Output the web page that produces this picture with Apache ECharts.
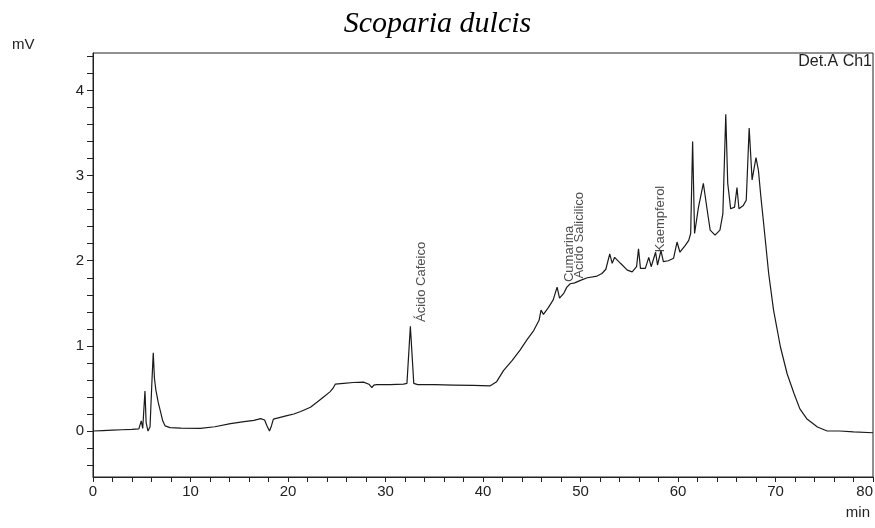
<!DOCTYPE html>
<html>
<head>
<meta charset="utf-8">
<script src="https://cdn.jsdelivr.net/npm/echarts@6/dist/echarts.min.js"></script>
<style>
  html, body { margin: 0; padding: 0; background: #fff; }
  #chart { width: 875px; height: 528px; }
</style>
</head>
<body>
<div id="chart"></div>
<script>
// Retention time (min) and detector signal (mV) of the chromatogram trace
const retentionTime = [
  0.0, 1.0, 2.0, 3.0, 4.0, 4.7, 4.95, 5.1, 5.2, 5.33, 5.45, 5.64, 5.85, 6.05, 6.18, 6.3, 6.45, 6.7, 6.9, 7.15,
  7.4, 7.9, 9.0, 11.0, 12.5, 14.1, 15.5, 16.5, 17.2, 17.6, 17.85, 18.1, 18.3, 18.5, 19.2, 19.9, 20.6, 21.3, 22.3, 23.0,
  23.65, 24.3, 24.6, 24.85, 25.7, 26.7, 27.75, 28.3, 28.6, 28.8, 29.1, 30.5, 31.85, 32.2, 32.55, 32.9, 33.3, 35.0, 37.0, 39.0,
  40.7, 41.4, 42.1, 43.0, 43.8, 44.5, 45.2, 45.75, 45.95, 46.2, 46.7, 47.2, 47.6, 47.85, 48.3, 48.6, 48.95, 49.4, 50.0, 50.7,
  51.7, 52.2, 52.6, 53.0, 53.25, 53.5, 54.1, 54.8, 55.3, 55.75, 55.95, 56.15, 56.65, 57.0, 57.25, 57.7, 57.9, 58.25, 58.5, 59.0,
  59.55, 59.9, 60.2, 60.75, 60.9, 61.1, 61.3, 61.5, 61.7, 62.1, 62.3, 62.6, 63.0, 63.3, 63.8, 64.3, 64.6, 64.9, 65.1, 65.4,
  65.8, 66.05, 66.25, 66.7, 67.0, 67.3, 67.6, 68.0, 68.25, 68.5, 68.8, 69.3, 69.8, 70.5, 71.2, 71.9, 72.5, 73.2, 74.3, 75.3,
  76.6, 78.0, 80.0
];
const signal = [
  0.00, 0.005, 0.01, 0.015, 0.02, 0.025, 0.12, 0.03, 0.05, 0.47, 0.10, 0.00, 0.05, 0.60, 0.92, 0.62, 0.48, 0.33, 0.24, 0.12,
  0.06, 0.04, 0.035, 0.03, 0.05, 0.087, 0.11, 0.125, 0.145, 0.13, 0.06, 0.00, 0.06, 0.14, 0.16, 0.18, 0.20, 0.23, 0.28, 0.34,
  0.40, 0.46, 0.50, 0.55, 0.56, 0.57, 0.575, 0.55, 0.51, 0.54, 0.545, 0.545, 0.55, 0.56, 1.23, 0.56, 0.545, 0.545, 0.54, 0.535,
  0.53, 0.58, 0.71, 0.83, 0.95, 1.07, 1.18, 1.30, 1.42, 1.37, 1.45, 1.54, 1.69, 1.56, 1.62, 1.69, 1.73, 1.74, 1.77, 1.80,
  1.82, 1.85, 1.90, 2.08, 1.97, 2.04, 1.97, 1.89, 1.87, 1.93, 2.14, 1.91, 1.91, 2.04, 1.93, 2.10, 1.95, 2.12, 1.99, 2.00,
  2.03, 2.22, 2.10, 2.18, 2.16, 2.24, 2.32, 3.40, 2.32, 2.63, 2.61, 2.91, 2.59, 2.36, 2.30, 2.36, 2.55, 3.72, 2.91, 2.61,
  2.63, 2.86, 2.61, 2.65, 2.71, 3.56, 2.95, 3.21, 3.06, 2.75, 2.42, 1.85, 1.42, 0.99, 0.67, 0.44, 0.26, 0.145, 0.047, 0.00,
  0.00, -0.01, -0.02
];

// Identified compounds: name, label time and label base height
const peakNames = ['Ácido Cafeico', 'Cumarina', 'Acido Salicilico', 'Kaempferol'];
const peakLabelTime = [33.67, 48.87, 49.9, 58.18];
const peakLabelBase = [1.28, 1.75, 1.79, 2.10];

// Axis ticks and labels
const xTickLabels = [0, 10, 20, 30, 40, 50, 60, 70, 80];
const yTickLabels = [0, 1, 2, 3, 4];
const yMinorTicks = [-0.4, -0.2, 0, 0.2, 0.4, 0.6, 0.8, 1, 1.2, 1.4, 1.6, 1.8, 2, 2.2, 2.4, 2.6, 2.8, 3, 3.2, 3.4, 3.6, 3.8, 4, 4.2, 4.4];

const traceData = retentionTime.map((t, i) => [t, signal[i]]);
const labelData = peakNames.map((n, i) => ({ name: n, value: [peakLabelTime[i], peakLabelBase[i]] }));

const ink = '#222';
const sans = 'Liberation Sans, Arial, sans-serif';

const chart = echarts.init(document.getElementById('chart'), null, { renderer: 'canvas' });
chart.setOption({
  animation: false,
  backgroundColor: '#fff',
  title: {
    text: 'Scoparia dulcis',
    left: 'center',
    top: 4,
    textStyle: {
      fontFamily: 'Liberation Serif, Times New Roman, serif',
      fontStyle: 'italic',
      fontWeight: 'normal',
      fontSize: 30,
      color: '#000'
    }
  },
  grid: {
    left: 93, right: 2, top: 53, bottom: 51,
    containLabel: false,
    outerBoundsMode: 'none',
    show: true,
    borderColor: ink,
    borderWidth: 1,
    backgroundColor: 'transparent'
  },
  xAxis: {
    type: 'value',
    min: 0, max: 80, interval: 2,
    axisLine: { show: true, onZero: false, lineStyle: { color: ink, width: 1 } },
    axisTick: { show: true, length: 5, lineStyle: { color: ink } },
    axisLabel: {
      color: ink, fontFamily: sans, fontSize: 15, margin: 7,
      hideOverlap: false,
      alignMaxLabel: 'right',
      formatter: v => (xTickLabels.indexOf(v) >= 0 ? String(v) : '')
    },
    splitLine: { show: false }
  },
  yAxis: {
    type: 'value',
    min: -0.54, max: 4.44,
    axisLine: { show: true, onZero: false, lineStyle: { color: ink, width: 1 } },
    axisTick: { show: true, length: 6, customValues: yMinorTicks, lineStyle: { color: ink } },
    axisLabel: {
      color: ink, fontFamily: sans, fontSize: 15, margin: 9,
      customValues: yTickLabels,
      formatter: v => String(Math.round(v))
    },
    splitLine: { show: false }
  },
  graphic: [
    { type: 'text', left: 12, top: 37, style: { text: 'mV', font: '15px ' + sans, fill: ink } },
    { type: 'text', right: 5, top: 505, style: { text: 'min', font: '15px ' + sans, fill: ink } },
    { type: 'text', right: 3, top: 54, style: { text: 'Det.A Ch1', font: '16px ' + sans, fill: ink } }
  ],
  series: [
    {
      type: 'line',
      data: traceData,
      showSymbol: false,
      smooth: false,
      lineStyle: { color: '#1a1a1a', width: 1.2 },
      silent: true,
      z: 3
    },
    {
      type: 'scatter',
      data: labelData,
      symbolSize: 0,
      silent: true,
      label: {
        show: true,
        formatter: p => p.name,
        position: [0, 0],
        rotate: 90,
        align: 'left',
        verticalAlign: 'middle',
        fontFamily: sans,
        fontSize: 13,
        color: ink
      },
      z: 4
    }
  ]
});
</script>
</body>
</html>
